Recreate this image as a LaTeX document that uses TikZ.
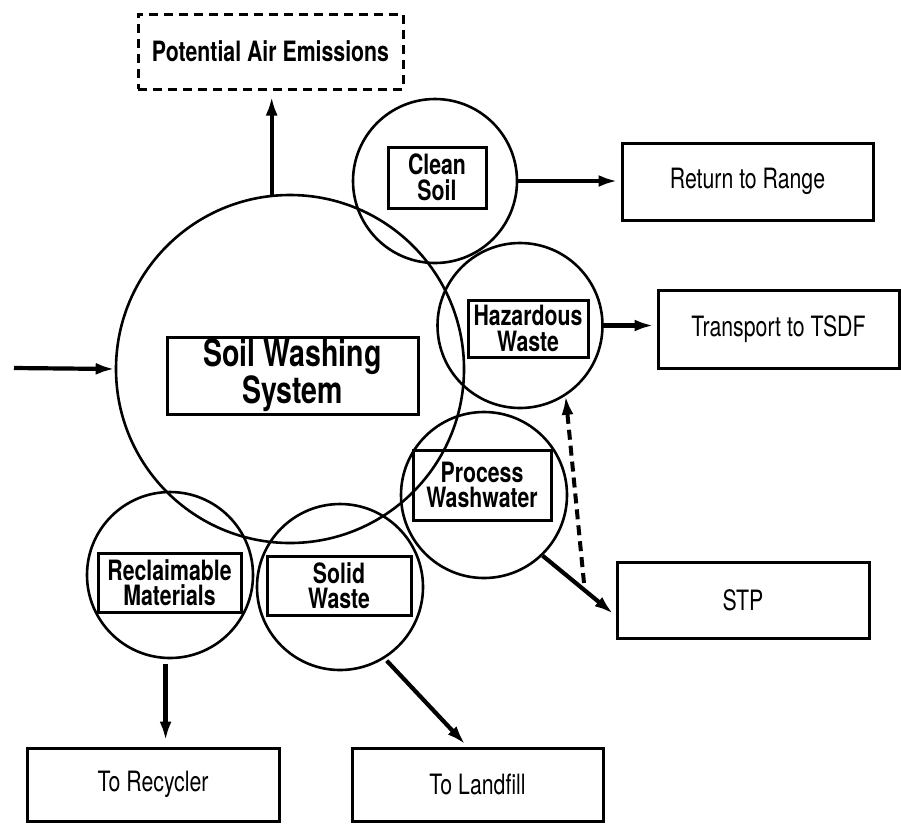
\documentclass[tikz,border=0pt]{standalone}
\usepackage{fontspec}
\setmainfont{TeX Gyre Heros}[FakeStretch=0.76]
\usetikzlibrary{arrows.meta}
\begin{document}
\begin{tikzpicture}[x=1pt,y=-1pt,
  ring/.style={draw,circle,line width=2.6pt,inner sep=0pt},
  labelbox/.style={draw,rectangle,line width=3pt,inner sep=0pt,align=center,
    font=\fontsize{28}{25.5}\selectfont\bfseries},
  endbox/.style={draw,rectangle,line width=3pt,inner sep=0pt,align=center,
    font=\fontsize{28}{30}\selectfont,minimum width=251pt},
  flow/.style={line width=4.2pt,-{Latex[length=19pt,width=12pt]}},
  dflow/.style={line width=4pt,dash pattern=on 10pt off 6pt,-{Latex[length=19pt,width=12pt]}}
]
\useasboundingbox (0,0) rectangle (901,823);

% circles
\node[ring,minimum size=348pt] (main) at (290,369) {};
\node[ring,minimum size=164pt] (clean) at (435,181) {};
\node[ring,minimum size=165pt] (haz) at (520,325.5) {};
\node[ring,minimum size=166pt] (pw) at (484,495) {};
\node[ring,minimum size=166pt] (rec) at (170,575) {};
\node[ring,minimum size=166pt] (sw) at (340,587) {};

% boxes inside circles
\node[labelbox,minimum width=251pt,minimum height=77pt,font=\fontsize{37.5}{35}\selectfont\bfseries]
  (swbox) at (292.5,375.5) {Soil Washing\\System};
\node[labelbox,minimum width=98pt,minimum height=61pt] (cleanbox) at (437,177.5) {Clean\\Soil};
\node[labelbox,minimum width=120pt,minimum height=57pt] (hazbox) at (528,328.5) {Hazardous\\Waste};
\node[labelbox,minimum width=138pt,minimum height=70pt] (pwbox) at (482,485) {Process\\Washwater};
\node[labelbox,minimum width=143pt,minimum height=59pt] (recbox) at (169.5,582.5) {Reclaimable\\Materials};
\node[labelbox,minimum width=144pt,minimum height=59pt] (swbox2) at (339,585.5) {Solid\\Waste};

% dashed emissions box
\node[labelbox,dash pattern=on 9pt off 6pt,minimum width=265pt,minimum height=75pt]
  (pae) at (270.5,51.5) {Potential Air Emissions};

% destination boxes
\node[endbox,minimum height=77pt] (ret) at (747.5,181.5) {Return to Range};
\node[endbox,minimum width=241pt,minimum height=78pt] (tr) at (778.5,329) {Transport to TSDF};
\node[endbox,minimum width=252pt,minimum height=76pt] (stp) at (743,600) {STP};
\node[endbox,minimum width=252pt,minimum height=73pt] (recy) at (153,784.5) {To Recycler};
\node[endbox,minimum height=73pt] (lf) at (477.5,784.5) {To Landfill};

% connectors
\coordinate (feed) at (14,368);
\coordinate (dstart) at (584,583);
\draw[flow] (feed) -- (main.west);
\draw[flow,shorten >=6pt] (main.96) -- (main.96 |- pae.south);
\draw[flow,shorten >=3pt] (clean.east) -- (clean.east -| ret.west);
\draw[flow,shorten >=3pt] (haz.east) -- (haz.east -| tr.west);
\draw[flow,shorten >=3pt] (pw.-46) -- (stp.187);
\draw[dflow] (dstart) -- (haz.-57);
\draw[flow,shorten <=5pt,shorten >=6pt] (rec.-93) -- (rec.-93 |- recy.north);
\draw[flow,shorten <=3pt,shorten >=3pt] (sw.-58) -- (lf.105);
\end{tikzpicture}
\end{document}
